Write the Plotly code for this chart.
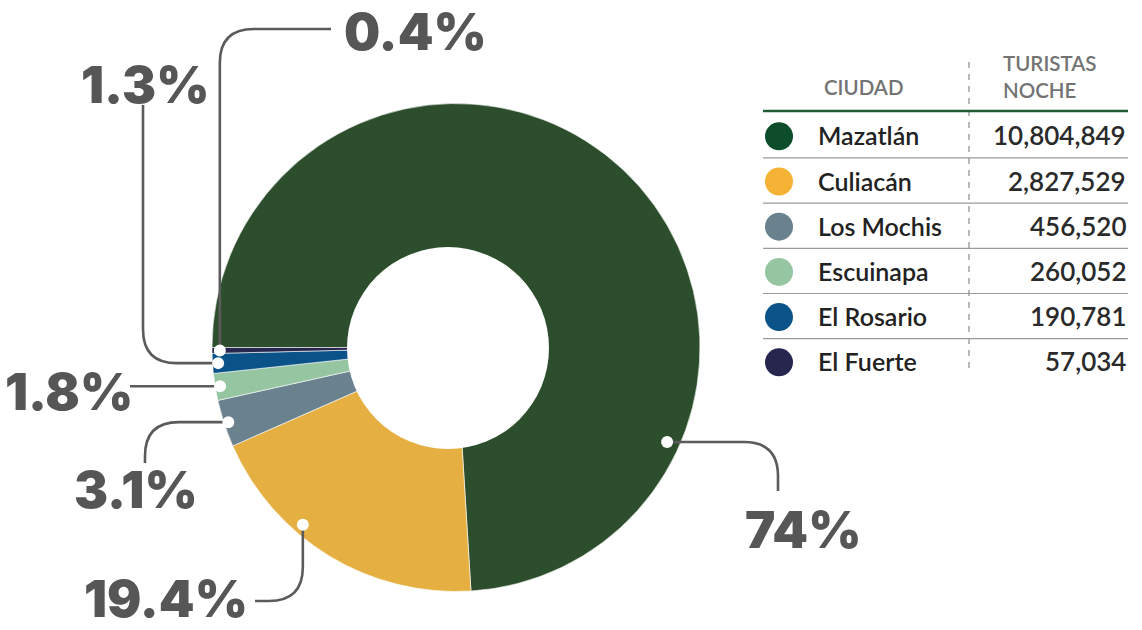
import math
import plotly.graph_objects as go

# ---------------- data ----------------
ciudades = ["Mazatlán", "Culiacán", "Los Mochis", "Escuinapa", "El Rosario", "El Fuerte"]
turistas = [10804849, 2827529, 456520, 260052, 190781, 57034]
col_headers = ["CIUDAD", "TURISTAS<br>NOCHE"]

# ---------------- styles ----------------
pie_colors = ["#2d4e2c", "#e5b041", "#6a818e", "#95c5a1", "#0a5388", "#26264f"]
table_colors = ["#0d4d2b", "#f5b335", "#6a818e", "#95c5a1", "#0a5388", "#26264f"]
LABEL_GREY = "#565656"
LINE_GREY = "#5b5b5b"

W, H = 1142, 630
CX, CY, R = 456, 347.5, 244          # pie centre / radius in px
HOLE_X, HOLE_Y, HOLE_R = 448, 348, 101
START_DEG = -90                      # first slice starts at 9 o'clock, clockwise

# per slice: label centre, dot position inside slice (fraction of slice angle, fraction of radius),
# leader style: first segment direction and end point
label_layout = [
    dict(pos=(803, 529), frac=0.766, rf=0.948, first="h", end=(778, 491)),
    dict(pos=(166, 598), frac=0.636, rf=0.960, first="v", end=(255, 601)),
    dict(pos=(136, 489), frac=0.5, rf=0.982, first="h", end=(145, 463)),
    dict(pos=(69, 391), frac=0.5, rf=0.980, first="h", end=(130, None)),
    dict(pos=(145, 84), frac=0.5, rf=0.977, first="h", end=(143, 105)),
    dict(pos=(415, 31), frac=0.5, rf=0.968, first="v", end=(331, 29)),
]

total = sum(turistas)
pcts = [v / total * 100 for v in turistas]


def fmt_pct(p):
    s = f"{p:.1f}"
    if s.endswith(".0"):
        s = s[:-2]
    return s + "%"


fig = go.Figure()

fig.add_trace(go.Pie(
    labels=ciudades, values=turistas, sort=False, direction="clockwise",
    rotation=START_DEG,
    marker=dict(colors=pie_colors, line=dict(color="#ffffff", width=0.6)),
    textinfo="none", hoverinfo="label+value+percent", showlegend=False,
    domain=dict(x=[(CX - R) / W, (CX + R) / W], y=[(H - CY - R) / H, (H - CY + R) / H]),
))

shapes = []
annotations = []

# donut hole
shapes.append(dict(type="circle", xref="x", yref="y", layer="above",
                   x0=HOLE_X - HOLE_R, x1=HOLE_X + HOLE_R, y0=HOLE_Y - HOLE_R, y1=HOLE_Y + HOLE_R,
                   fillcolor="#ffffff", line=dict(width=0)))

# leaders, dots, percent labels
cum = 0.0
for i, v in enumerate(turistas):
    span = v / total * 360
    cfg = label_layout[i]
    a = math.radians(START_DEG + cum + span * cfg["frac"])
    cum += span
    r = R * cfg["rf"]
    dx, dy = CX + r * math.sin(a), CY - r * math.cos(a)
    ex, ey = cfg["end"]
    if ey is None:
        ey = dy
    rad = 34
    if cfg["first"] == "v":
        cx_, cy_ = dx, ey
    else:
        cx_, cy_ = ex, dy
    if abs(cx_ - ex) < 0.5 and abs(cy_ - ey) < 0.5:
        path = f"M {dx},{dy} L {ex},{ey}"
    else:
        l1 = math.hypot(cx_ - dx, cy_ - dy)
        l2 = math.hypot(ex - cx_, ey - cy_)
        r1 = min(rad, l1 * 0.9, l2 * 0.9)
        u1 = ((cx_ - dx) / l1, (cy_ - dy) / l1)
        u2 = ((ex - cx_) / l2, (ey - cy_) / l2)
        p1 = (cx_ - u1[0] * r1, cy_ - u1[1] * r1)
        p2 = (cx_ + u2[0] * r1, cy_ + u2[1] * r1)
        path = (f"M {dx},{dy} L {p1[0]},{p1[1]} Q {cx_},{cy_} {p2[0]},{p2[1]} "
                f"L {ex},{ey}")
    shapes.append(dict(type="path", xref="x", yref="y", layer="above", path=path,
                       line=dict(color=LINE_GREY, width=2.6)))
    shapes.append(dict(type="circle", xref="x", yref="y", layer="above",
                       x0=dx - 6, x1=dx + 6, y0=dy - 6, y1=dy + 6,
                       fillcolor="#ffffff", line=dict(width=0)))
    lx, ly = cfg["pos"]
    annotations.append(dict(x=lx, y=ly, xref="x", yref="y", text=fmt_pct(pcts[i]),
                            showarrow=False, xanchor="center", yanchor="middle",
                            font=dict(family="Inter, Lato, sans-serif", size=51,
                                      color=LABEL_GREY, weight=900)))

# ---------------- table ----------------
TX0, TX1 = 763, 1128
DIV_X = 969
ROW_Y0, ROW_STEP = 136.3, 45.2
HEAD_FONT = dict(family="Lato, sans-serif", size=20.5, color="#737373", weight=600)

annotations.append(dict(x=822, y=87, xref="x", yref="y", text=col_headers[0], showarrow=False,
                        xanchor="left", yanchor="middle", font=HEAD_FONT))
annotations.append(dict(x=1001, y=76, xref="x", yref="y", text=col_headers[1], showarrow=False,
                        xanchor="left", yanchor="middle", align="left", font=HEAD_FONT))

shapes.append(dict(type="line", xref="x", yref="y", x0=DIV_X, x1=DIV_X, y0=62, y1=370,
                   line=dict(color="#8a8a8a", width=1.2, dash="6px,6px")))
shapes.append(dict(type="line", xref="x", yref="y", x0=TX0, x1=TX1, y0=111, y1=111,
                   line=dict(color="#1f5c33", width=2.6)))

row_y = [ROW_Y0 + ROW_STEP * i for i in range(len(ciudades))]
for i in range(len(ciudades) - 1):
    y = row_y[i] + ROW_STEP / 2 - 1
    shapes.append(dict(type="line", xref="x", yref="y", x0=TX0, x1=TX1, y0=y, y1=y,
                       line=dict(color="#9a9a9a", width=1.2)))

fig.add_trace(go.Scatter(
    x=[779] * len(ciudades), y=row_y, mode="markers", showlegend=False,
    marker=dict(size=28, color=table_colors, line=dict(width=0)),
    text=ciudades, hoverinfo="text",
))

for i, (c, v) in enumerate(zip(ciudades, turistas)):
    annotations.append(dict(x=816, y=row_y[i] - 1, xref="x", yref="y", text=c, showarrow=False,
                            xanchor="left", yanchor="middle",
                            font=dict(family="Lato, sans-serif", size=25, color="#222222", weight=600)))
    annotations.append(dict(x=1128, y=row_y[i] - 1, xref="x", yref="y", text=f"{v:,}",
                            showarrow=False, xanchor="right", yanchor="middle",
                            font=dict(family="Lato, sans-serif", size=26, color="#2a2a2a", weight=600)))

fig.update_layout(
    width=W, height=H, margin=dict(l=0, r=0, t=0, b=0),
    paper_bgcolor="#ffffff", plot_bgcolor="rgba(0,0,0,0)",
    xaxis=dict(range=[0, W], visible=False, fixedrange=True),
    yaxis=dict(range=[H, 0], visible=False, fixedrange=True),
    shapes=shapes, annotations=annotations,
)

fig.write_html("out.html")
